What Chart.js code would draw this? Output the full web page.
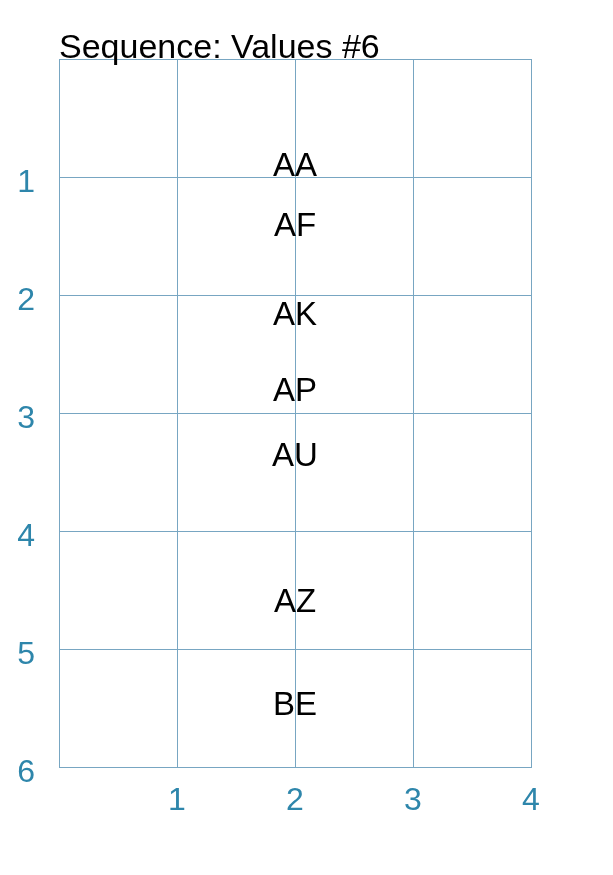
<!DOCTYPE html>
<html>
<head>
<meta charset="utf-8">
<script src="https://cdn.jsdelivr.net/npm/chart.js@4"></script>
<style>
html,body{margin:0;padding:0;background:#fff;}
#wrap{width:613px;height:875px;}
</style>
</head>
<body>
<div id="wrap"><canvas id="c" width="613" height="875"></canvas></div>
<script>
const titleText = "Sequence: Values #6";
const labels = ["AA", "AF", "AK", "AP", "AU", "AZ", "BE"];
const xValues = [2, 2, 2, 2, 2, 2, 2];
const yValues = [0.99, 1.50, 2.25, 2.90, 3.45, 4.69, 5.56];
const xTicks = [1, 2, 3, 4];
const yTicks = [1, 2, 3, 4, 5, 6];

const FONT = "'Liberation Sans', Arial, sans-serif";
const tickColor = "#2e86ab";
const gridColor = "rgb(120,166,194)";

const textLabels = {
  id: "textLabels",
  afterDatasetsDraw(chart) {
    const ctx = chart.ctx;
    const xs = chart.scales.x, ys = chart.scales.y;
    ctx.save();
    ctx.font = "33px " + FONT;
    ctx.fillStyle = "#000";
    ctx.textAlign = "center";
    ctx.textBaseline = "alphabetic";
    labels.forEach((t, i) => {
      ctx.fillText(t, xs.getPixelForValue(xValues[i]), ys.getPixelForValue(yValues[i]));
    });
    ctx.restore();
  }
};

new Chart(document.getElementById("c"), {
  type: "scatter",
  data: {
    datasets: [{
      data: xValues.map((x, i) => ({x: x, y: yValues[i]})),
      pointRadius: 0,
      pointHoverRadius: 0,
      showLine: false
    }]
  },
  options: {
    responsive: false,
    animation: false,
    layout: {padding: {left: 0, right: 82, top: 0, bottom: 0}},
    plugins: {
      legend: {display: false},
      tooltip: {enabled: false},
      title: {
        display: true,
        text: titleText,
        align: "start",
        fullSize: false,
        color: "#000",
        font: {family: FONT, size: 34, weight: "normal", lineHeight: 1.2},
        padding: {top: 28, bottom: -9.8}
      }
    },
    scales: {
      x: {
        type: "linear",
        min: 0, max: 4,
        afterFit: s => { s.height = 108; },
        afterBuildTicks: s => { s.ticks = [0].concat(xTicks).map(v => ({value: v})); },
        grid: {color: gridColor, lineWidth: 1, drawTicks: false},
        border: {color: gridColor, width: 1},
        ticks: {
          padding: 15,
          color: tickColor,
          font: {family: FONT, size: 32},
          callback: v => (xTicks.includes(v) ? String(v) : "")
        }
      },
      y: {
        type: "linear",
        reverse: true,
        min: 0, max: 6,
        afterFit: s => { s.width = 59; },
        afterBuildTicks: s => { s.ticks = [0].concat(yTicks).map(v => ({value: v})); },
        grid: {color: gridColor, lineWidth: 1, drawTicks: false},
        border: {color: gridColor, width: 1},
        ticks: {
          padding: 24,
          labelOffset: 6,
          color: tickColor,
          font: {family: FONT, size: 32},
          callback: v => (yTicks.includes(v) ? String(v) : "")
        }
      }
    }
  },
  plugins: [textLabels]
});
</script>
</body>
</html>
